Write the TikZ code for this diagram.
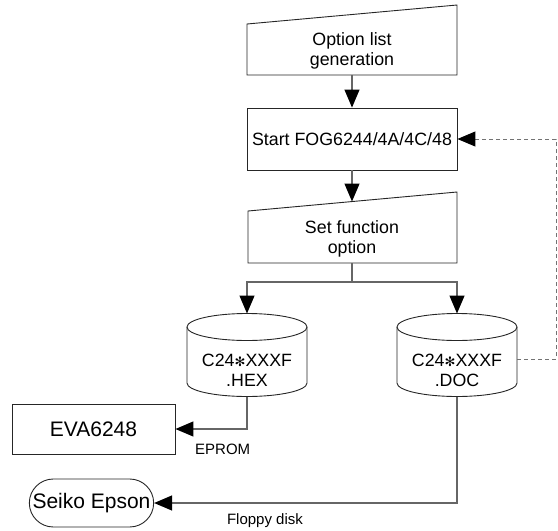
\documentclass[tikz,border=0pt]{standalone}
\usepackage{fontspec}
\setmainfont{Liberation Sans}
\newfontfamily\symfont{DejaVu Sans}
\usetikzlibrary{arrows.meta,shapes.misc}

\begin{document}
\begin{tikzpicture}[x=1pt,y=-1pt,
  txt/.style={font=\fontsize{17.8}{20}\selectfont, align=center, inner sep=0pt},
  bigtxt/.style={font=\fontsize{21}{24}\selectfont},
  note/.style={font=\fontsize{15}{18}\selectfont, inner sep=0pt},
  outline/.style={draw=black!85, line width=0.9pt},
  head/.style={-{Triangle[length=18pt,width=15pt,color=black]}},
  conn/.style={draw=black!60, line width=1.3pt, head},
  dconn/.style={draw=black!55, line width=1pt, dash pattern=on 4pt off 3pt, head},
  pics/drum/.style={code={
    \draw[outline] (0,0) ellipse[x radius=60pt, y radius=13.5pt];
    \draw[outline] (-60,0) -- (-60,56)
      arc[start angle=180, end angle=360, x radius=60pt, y radius=13.5pt]
      -- (60,0);
  }}
]
\useasboundingbox (0,0) rectangle (558,531);

% manual input: option list generation
\draw[outline] (247,24) -- (457,5) -- (457,75) -- (247,75) -- cycle;
\node[txt] (opt) at (352,51) {Option list\\generation};
\coordinate (optB) at (352,75);

% process: start
\node[outline, rectangle, minimum width=210pt, minimum height=62pt] (start)
  at (352,139) {};
\node[txt] (startT) at (start.center) {Start FOG6244/4A/4C/48};

% manual input: set function option
\draw[outline] (248,211) -- (457,192) -- (457,263) -- (248,263) -- cycle;
\node[txt] (setf) at (352,239) {Set function\\option};
\coordinate (setT) at (352,201.5);
\coordinate (setB) at (352,263);
\coordinate (split) at (352,282);

% stored data
\pic at (247,327) {drum};
\pic at (457,327) {drum};
\coordinate (hexT) at (247,313.5);
\coordinate (hexB) at (247,396.5);
\coordinate (docT) at (457,313.5);
\coordinate (docB) at (457,396.5);
\coordinate (docR) at (517,359);
\coordinate (loop) at (556,359);
\node[txt] (hex) at (247,370) {C24{\symfont\fontsize{13}{17}\selectfont ✻}XXXF\\.HEX};
\node[txt] (doc) at (457,370) {C24{\symfont\fontsize{13}{17}\selectfont ✻}XXXF\\.DOC};

% targets
\node[outline, rectangle, minimum width=163pt, minimum height=50pt, bigtxt] (eva)
  at (93.5,429) {EVA6248};
\node[outline, rounded rectangle, minimum width=131pt, minimum height=48pt, bigtxt] (seiko)
  at (91.5,503) {Seiko Epson};

% connectors
\draw[conn] (optB) -- (start.north);
\draw[conn] (start.south) -- (setT);
\draw[conn] (setB) -- (split) -| (hexT);
\draw[conn] (split) -| (docT);
\draw[conn] (hexB) |- (eva.east);
\draw[conn] (docB) |- (seiko.east);
\draw[dconn] (docR) -- (loop) |- (start.east);

% media labels
\node[note, anchor=west] (eprom) at (195,449) {EPROM};
\node[note] (floppy) at (265,521) {Floppy disk};
\end{tikzpicture}
\end{document}
